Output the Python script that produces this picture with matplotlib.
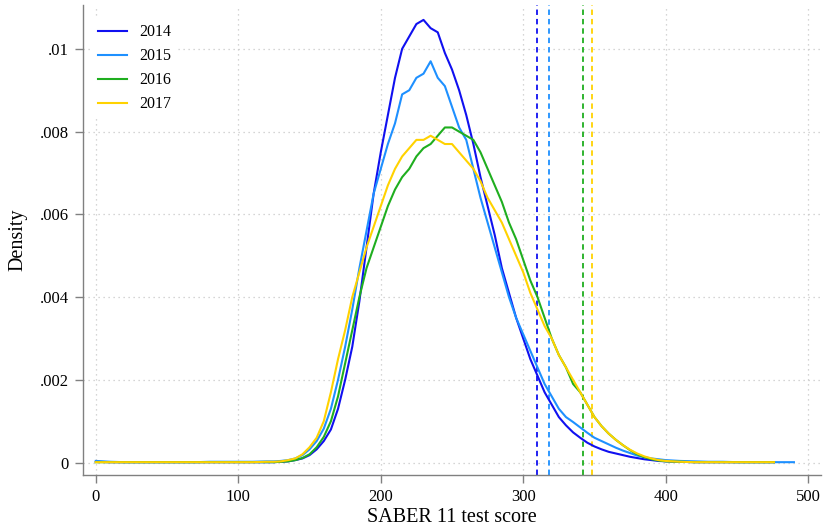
import matplotlib
matplotlib.use("Agg")
import matplotlib.pyplot as plt
from matplotlib.ticker import FuncFormatter
import numpy as np

# score grid (x) shared by all four years
score = [0, 10, 20, 30, 40, 50, 60, 70, 80, 90, 100, 110, 120, 125,
         130, 135, 140, 145, 150, 155, 160, 165, 170, 175, 180, 185, 190, 195,
         200, 205, 210, 215, 220, 225, 230, 235, 240, 245, 250, 255, 260, 265,
         270, 275, 280, 285, 290, 295, 300, 305, 310, 315, 320, 325, 330, 335,
         340, 345, 350, 355, 360, 365, 370, 375, 380, 385, 390, 395, 400,
         410, 420, 430, 440, 450, 460, 470, 476, 490]

d2014 = [.00002, .00001, .00001, .00001, .00001, .00001, .00001, .00001, .00001, .00001, .00001, .00001, .00001, .00001,
         .00002, .00003, .00006, .00010, .00018, .00032, .00052, .00080, .0013, .0020, .0028, .0039, .0052, .0065,
         .0075, .0084, .0093, .0100, .0103, .0106, .0107, .0105, .0104, .0099, .0095, .0090, .0084, .0077,
         .0069, .0062, .0055, .0047, .0041, .0035, .0030, .0025, .0021, .0017, .0014, .0011, .00090, .00073,
         .00060, .00048, .00039, .00032, .00026, .00022, .00018, .00014, .00011, .00008, .00006, .00004, .00003,
         .00002, .00001, .00001, .00001, .00001, .00001, .00001, .00001, np.nan]

d2015 = [.00004, .00002, .00001, .00001, .00001, .00001, .00001, .00001, .00002, .00002, .00002, .00002, .00003, .00003,
         .00004, .00006, .00010, .00018, .00032, .00052, .00082, .0013, .0020, .0028, .0037, .0047, .0056, .0065,
         .0071, .0077, .0082, .0089, .0090, .0093, .0094, .0097, .0093, .0091, .0086, .0081, .0078, .0071,
         .0064, .0058, .0052, .0046, .0040, .0035, .0031, .0027, .0023, .0019, .0016, .0013, .0011, .00098,
         .00085, .00072, .00060, .00052, .00044, .00036, .00029, .00023, .00017, .00013, .00010, .00008, .00006,
         .00004, .00003, .00002, .00002, .00001, .00001, .00001, .00001, .00001]

d2016 = [.00001, .00001, .00001, .00001, .00001, .00001, .00001, .00001, .00001, .00001, .00001, .00001, .00001, .00001,
         .00002, .00003, .00006, .00011, .00020, .00037, .00062, .0010, .0016, .0024, .0032, .0040, .0047, .0052,
         .0057, .0062, .0066, .0069, .0071, .0074, .0076, .0077, .0079, .0081, .0081, .0080, .0079, .0078,
         .0075, .0071, .0067, .0063, .0058, .0054, .0049, .0044, .0040, .0035, .0030, .0026, .0023, .0019,
         .0017, .0014, .0011, .00088, .00070, .00055, .00042, .00030, .00020, .00013, .00008, .00005, .00003,
         .00002, .00001, .00001, .00001, .00001, .00001, .00001, .00001, np.nan]

d2017 = [.00001, .00001, .00001, .00001, .00001, .00001, .00001, .00001, .00001, .00001, .00001, .00001, .00002, .00002,
         .00003, .00006, .00010, .00020, .00037, .00060, .0010, .0017, .0025, .0032, .0040, .0046, .0052, .0057,
         .0062, .0067, .0071, .0074, .0076, .0078, .0078, .0079, .0078, .0077, .0077, .0075, .0073, .0071,
         .0068, .0064, .0061, .0058, .0054, .0050, .0046, .0041, .0037, .0033, .0030, .0026, .0023, .0020,
         .0017, .0014, .0011, .00088, .00070, .00055, .00042, .00031, .00022, .00015, .00010, .00006, .00004,
         .00002, .00001, .00001, .00001, .00001, .00001, .00001, .00001, np.nan]

years = ["2014", "2015", "2016", "2017"]
dens = [d2014, d2015, d2016, d2017]
cutoffs = [310, 318, 342, 348]   # dashed vertical lines
colors = ["#1010f0", "#1e90ff", "#1fae1f", "#ffd200"]

plt.rcParams["font.family"] = ["Liberation Serif", "DejaVu Serif"]

fig = plt.figure(figsize=(8.23, 5.29), dpi=100)
ax = fig.add_axes([83 / 823, 1 - 475 / 529, (821 - 83) / 823, (475 - 5) / 529])

for y, d, c in zip(years, dens, colors):
    ax.plot(score, d, color=c, lw=1.5, label=y, zorder=3)
for v, c in zip(cutoffs, colors):
    ax.axvline(v, color=c, lw=1.3, ls=(0, (3, 2.2)), zorder=2)

ax.set_xlim(-9, 509)
ax.set_ylim(-0.0003, 0.01106)
ax.set_xticks([0, 100, 200, 300, 400, 500])
ax.set_yticks([0, .002, .004, .006, .008, .01])
ax.yaxis.set_major_formatter(FuncFormatter(
    lambda v, p: "0" if v == 0 else ("%g" % v).lstrip("0")))

ax.grid(True, color="#c8c8c8", ls=(0, (1, 3)), lw=0.9)
ax.set_axisbelow(True)
for s in ["top", "right"]:
    ax.spines[s].set_visible(False)
for s in ["left", "bottom"]:
    ax.spines[s].set_color("#808080")
    ax.spines[s].set_linewidth(1.0)
ax.tick_params(colors="#808080", labelcolor="black", length=6, width=1,
               labelsize=12)
ax.tick_params(axis="x", pad=4)
ax.tick_params(axis="y", pad=4)

ax.set_xlabel("SABER 11 test score", fontsize=14.5, labelpad=2)
ax.set_ylabel("Density", fontsize=14.5, labelpad=9)

leg = ax.legend(loc="upper left", bbox_to_anchor=(92 / 823, 1 - 18 / 529),
                bbox_transform=fig.transFigure, borderaxespad=0, fontsize=11.5,
                frameon=True, facecolor="white", edgecolor="none", framealpha=1,
                handlelength=1.8, handletextpad=0.75, labelspacing=0.5,
                borderpad=0.4, fancybox=False)

fig.savefig("out.png", dpi=100)
